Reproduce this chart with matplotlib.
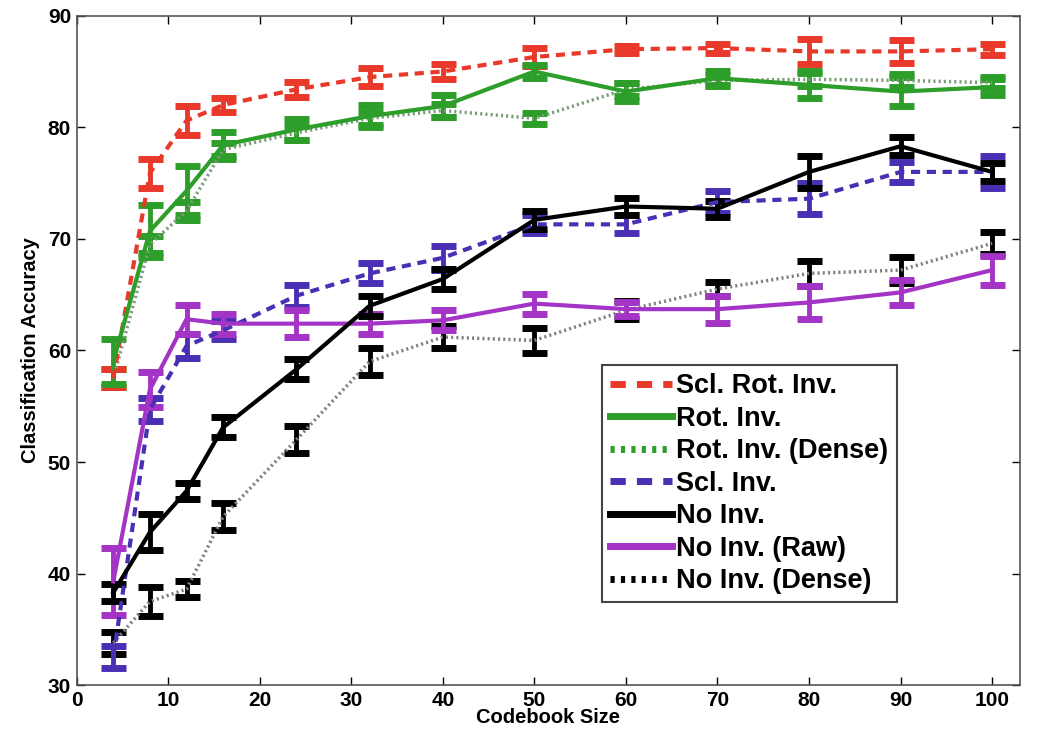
import numpy as np
import matplotlib
matplotlib.use("Agg")
import matplotlib.pyplot as plt

plt.rcParams['font.family'] = ['Liberation Sans', 'DejaVu Sans']

codebook = [4, 8, 12, 16, 24, 32, 40, 50, 60, 70, 80, 90, 100]

scl_rot = [57.5, 75.9, 80.6, 82.0, 83.4, 84.5, 85.0, 86.3, 87.0, 87.1, 86.8, 86.8, 87.0]
scl_rot_err = [0.8, 1.3, 1.3, 0.6, 0.7, 0.8, 0.7, 0.8, 0.3, 0.4, 1.1, 1.0, 0.5]

rot = [59.0, 70.7, 74.3, 78.4, 79.8, 81.0, 81.9, 85.0, 83.2, 84.4, 83.8, 83.2, 83.6]
rot_err = [2.0, 2.3, 2.2, 1.2, 0.9, 1.0, 1.0, 0.6, 0.8, 0.6, 1.2, 1.3, 0.7]

rot_dense = [57.5, 69.5, 72.5, 78.0, 79.5, 80.8, 81.5, 80.8, 83.4, 84.2, 84.3, 84.2, 84.0]
rot_dense_err = [0.8, 0.8, 0.8, 0.6, 0.6, 0.6, 0.6, 0.5, 0.6, 0.5, 0.6, 0.6, 0.5]

scl = [32.5, 54.7, 60.4, 61.8, 64.9, 66.9, 68.3, 71.3, 71.3, 73.3, 73.6, 76.0, 76.0]
scl_err = [1.0, 1.0, 1.1, 0.8, 1.0, 0.9, 1.1, 0.8, 0.8, 1.0, 1.4, 0.9, 1.4]

no_inv = [38.3, 43.7, 47.4, 53.1, 58.3, 64.0, 66.4, 71.7, 72.9, 72.7, 76.0, 78.3, 76.0]
no_inv_err = [0.8, 1.6, 0.7, 0.9, 0.9, 0.9, 0.9, 0.8, 0.8, 0.7, 1.4, 0.8, 0.8]

no_inv_raw = [39.3, 56.5, 62.8, 62.4, 62.4, 62.4, 62.7, 64.2, 63.7, 63.7, 64.3, 65.2, 67.2]
no_inv_raw_err = [3.0, 1.6, 1.3, 0.9, 1.2, 0.9, 0.9, 0.9, 0.6, 1.2, 1.5, 1.1, 1.3]

no_inv_dense = [33.8, 37.5, 38.6, 45.1, 52.0, 59.0, 61.2, 60.9, 63.6, 65.5, 66.9, 67.2, 69.6]
no_inv_dense_err = [1.0, 1.3, 0.7, 1.2, 1.2, 1.2, 1.0, 1.1, 0.8, 0.6, 1.1, 1.2, 1.0]

labels = ['Scl. Rot. Inv.', 'Rot. Inv.', 'Rot. Inv. (Dense)', 'Scl. Inv.',
          'No Inv.', 'No Inv. (Raw)', 'No Inv. (Dense)']

fig = plt.figure(figsize=(10.5, 7.48), dpi=100)
ax = fig.add_axes([0.073, 0.084, 0.898, 0.895])

red = '#e8392a'
green = '#2e9e2a'
blue = '#4a2fb4'
purple = '#a334c6'

series = [
    # values, err, line color, err color, linestyle, lw
    (scl_rot, scl_rot_err, red, red, (0, (2.2, 1.6)), 3.0),
    (rot, rot_err, green, green, '-', 3.0),
    (rot_dense, rot_dense_err, '#7a9a78', green, (0, (0.6, 0.9)), 2.5),
    (scl, scl_err, blue, blue, (0, (2.2, 1.6)), 3.0),
    (no_inv, no_inv_err, 'black', 'black', '-', 3.0),
    (no_inv_raw, no_inv_raw_err, purple, purple, '-', 3.0),
    (no_inv_dense, no_inv_dense_err, '#808080', 'black', (0, (0.6, 0.9)), 2.5),
]

# draw dense ones first so solid lines sit on top
order = [2, 6, 0, 3, 5, 4, 1]
for i in order:
    vals, err, lc, ec, ls, lw = series[i]
    ax.errorbar(codebook, vals, yerr=err, fmt='none', ecolor=ec,
                elinewidth=3.5, capsize=9, capthick=5, zorder=2)
    ax.plot(codebook, vals, color=lc, linestyle=ls, linewidth=lw, zorder=3)

leg_handles = []
leg_colors = [red, green, green, blue, 'black', purple, 'black']
for i in range(7):
    ls = series[i][4]
    h, = ax.plot([], [], color=leg_colors[i], linestyle=ls, linewidth=5)
    leg_handles.append(h)

ax.set_xlim(0, 103)
ax.set_ylim(30, 90)
ax.set_xticks(np.arange(0, 101, 10))
ax.set_yticks(np.arange(30, 91, 10))
ax.tick_params(direction='in', top=True, right=True, length=6, width=1,
               labelsize=15, colors='black', pad=4)
for lab in ax.get_xticklabels() + ax.get_yticklabels():
    lab.set_fontweight('bold')
for s in ax.spines.values():
    s.set_color('#555555')
    s.set_linewidth(1.2)

ax.set_xlabel('Codebook Size', fontsize=14.5, fontweight='bold', labelpad=-1)
ax.set_ylabel('Classification Accuracy', fontsize=14.5, fontweight='bold', labelpad=6)

leg = ax.legend(leg_handles, labels, loc='upper left',
                bbox_to_anchor=(0.557, 0.478),
                prop={'weight': 'bold', 'size': 19.5},
                handlelength=2.3, handletextpad=0.15, labelspacing=0.24,
                borderpad=0.3, borderaxespad=0, fancybox=False, framealpha=1,
                edgecolor='#444444')
leg.get_frame().set_linewidth(1.5)

plt.savefig('out.png', dpi=100)
